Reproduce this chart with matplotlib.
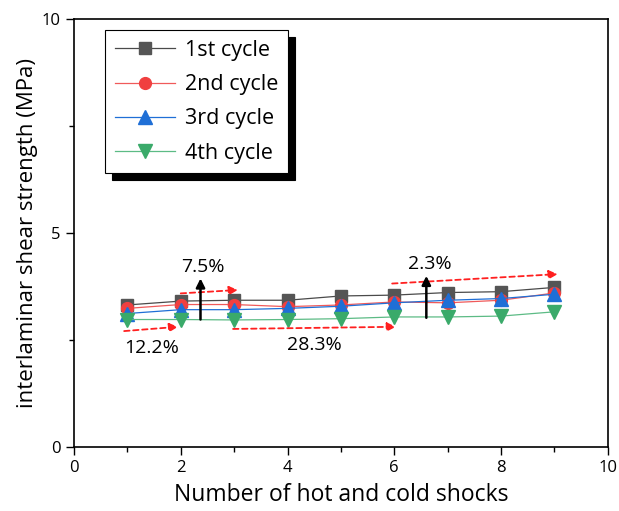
import matplotlib.pyplot as plt
from matplotlib.ticker import MultipleLocator

plt.rcParams['font.family'] = ['Open Sans', 'DejaVu Sans']

# data
shocks = [1, 2, 3, 4, 5, 6, 7, 8, 9]
cycle1 = [3.32, 3.41, 3.43, 3.43, 3.53, 3.55, 3.61, 3.63, 3.73]
cycle2 = [3.24, 3.33, 3.33, 3.28, 3.32, 3.39, 3.37, 3.43, 3.60]
cycle3 = [3.12, 3.21, 3.21, 3.24, 3.29, 3.37, 3.43, 3.47, 3.57]
cycle4 = [2.98, 2.98, 2.97, 2.98, 3.00, 3.04, 3.04, 3.06, 3.16]
labels = ['1st cycle', '2nd cycle', '3rd cycle', '4th cycle']

# red dashed trend arrows: (x0, y0, x1, y1)
red_arrows = [(0.94, 2.71, 1.95, 2.81),
              (2.0, 3.59, 3.07, 3.67),
              (2.98, 2.76, 6.03, 2.81),
              (5.96, 3.82, 9.06, 4.04)]
# black gap arrows: (x, y0, y1)
black_arrows = [(2.37, 2.98, 3.94), (6.6, 3.02, 4.0)]
notes = [('7.5%', 2.42, 4.21), ('2.3%', 6.67, 4.28),
         ('12.2%', 1.45, 2.31), ('28.3%', 4.51, 2.38)]

fig = plt.figure(figsize=(6.19, 5.11), dpi=100)
ax = fig.add_axes([0.1195, 0.125, 0.8625, 0.838])

styles = [('#4a4a4a', '#555555', 's', 8),
          ('#f05a5a', '#f04040', 'o', 8.5),
          ('#1f6fd6', '#1f6fd6', '^', 9.5),
          ('#5cbb85', '#3aaa6a', 'v', 9.5)]
for ys, lab, (lc, mc, m, ms) in zip([cycle1, cycle2, cycle3, cycle4], labels, styles):
    ax.plot(shocks, ys, color=lc, lw=0.9, marker=m, ms=ms,
            mfc=mc, mec=mc, label=lab)

for x0, y0, x1, y1 in red_arrows:
    ax.annotate('', xy=(x1, y1), xytext=(x0, y0),
                arrowprops=dict(arrowstyle='-|>', color='#ff2020', lw=1.3,
                                linestyle=(0, (3, 2)), mutation_scale=13,
                                shrinkA=0, shrinkB=0))
for x, y0, y1 in black_arrows:
    ax.annotate('', xy=(x, y1), xytext=(x, y0),
                arrowprops=dict(arrowstyle='-|>', color='black', lw=1.8,
                                mutation_scale=13, shrinkA=0, shrinkB=0))
for txt, x, y in notes:
    ax.text(x, y, txt, fontsize=14, ha='center', va='center')

ax.set_xlim(0, 10)
ax.set_ylim(0, 10)
ax.xaxis.set_major_locator(MultipleLocator(2))
ax.xaxis.set_minor_locator(MultipleLocator(1))
ax.yaxis.set_major_locator(MultipleLocator(5))
ax.yaxis.set_minor_locator(MultipleLocator(2.5))
ax.tick_params(which='both', direction='out', labelsize=12)
ax.tick_params(which='major', length=6, width=1)
ax.tick_params(which='minor', length=3.5, width=1)
for s in ax.spines.values():
    s.set_linewidth(1.2)

ax.set_xlabel('Number of hot and cold shocks', fontsize=16.5, labelpad=5)
ax.set_ylabel('interlaminar shear strength (MPa)', fontsize=16, labelpad=3)

leg = ax.legend(loc='upper left', bbox_to_anchor=(0.058, 0.974), borderaxespad=0,
                fontsize=15.5, frameon=True, fancybox=False, edgecolor='black',
                shadow={'color': 'black', 'alpha': 1, 'ox': 5, 'oy': -5},
                handlelength=2.8, borderpad=0.45, labelspacing=0.62,
                handletextpad=0.45)
leg.get_frame().set_linewidth(0.8)

fig.savefig('out.png', dpi=100)
